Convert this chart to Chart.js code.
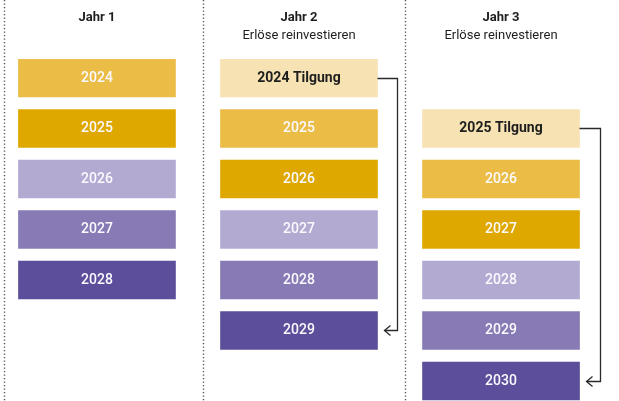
<!DOCTYPE html>
<html>
<head>
<meta charset="utf-8">
<script src="https://cdn.jsdelivr.net/npm/chart.js@4"></script>
<style>
  html, body { margin: 0; padding: 0; background: #fff; }
  #wrap { width: 619px; height: 401px; position: relative; }
</style>
</head>
<body>
<div id="wrap"><canvas id="ladderChart"></canvas></div>
<script>
// Jahre / Spalten
const columns = [1, 2, 3];
const columnTitles = ['Jahr 1', 'Jahr 2', 'Jahr 3'];
const subtitles = ['', 'Erlöse reinvestieren', 'Erlöse reinvestieren'];

// Anleihen-Leiter je Spalte (von kurz nach lang)
const ladderYears = [
    [2024, 2025, 2026, 2027, 2028],
    [2025, 2026, 2027, 2028, 2029],
    [2026, 2027, 2028, 2029, 2030]
];
const firstRow = [0, 1, 2];

// getilgte Anleihe je Spalte
const redeemedYears = [null, 2024, 2025];
const redeemedRow = [null, 0, 1];

const rungColors = ['#EBBC46', '#DFA800', '#B3AAD2', '#887AB4', '#5C4E9B'];
const tilgungColor = '#F6E2B2';
const boxHeight = 0.752;

const datasets = rungColors.map((color, k) => ({
    label: 'Stufe ' + (k + 1),
    data: columns.map((c, i) => ({ x: c, y: [firstRow[i] + k, firstRow[i] + k + boxHeight] })),
    names: columns.map((c, i) => String(ladderYears[i][k])),
    backgroundColor: color,
    textColor: '#FBFAFF',
    grouped: false,
    barThickness: 157
}));

const redeemedCols = columns.filter((c, i) => redeemedRow[i] !== null);
datasets.push({
    label: 'Tilgung',
    data: redeemedCols.map(c => ({ x: c, y: [redeemedRow[c - 1], redeemedRow[c - 1] + boxHeight] })),
    names: redeemedCols.map(c => redeemedYears[c - 1] + ' Tilgung'),
    backgroundColor: tilgungColor,
    textColor: '#1E1E1E',
    bold: true,
    grouped: false,
    barThickness: 157
});

const ladderPlugin = {
    id: 'ladder',
    beforeDatasetsDraw(chart) {
        const { ctx, scales: { x } } = chart;
        ctx.save();
        // gepunktete Trennlinien
        ctx.strokeStyle = '#555';
        ctx.lineWidth = 1.4;
        ctx.setLineDash([1.3, 2.2]);
        columns.forEach(c => {
            const px = Math.max(4.5, Math.round(x.getPixelForValue(c - 0.475)) + 0.5);
            ctx.beginPath();
            ctx.moveTo(px, 0);
            ctx.lineTo(px, chart.height);
            ctx.stroke();
        });
        ctx.setLineDash([]);

        // Kopfzeilen
        ctx.textAlign = 'center';
        ctx.textBaseline = 'middle';
        ctx.fillStyle = '#1E1E1E';
        columns.forEach((c, i) => {
            const px = x.getPixelForValue(c);
            ctx.font = 'bold 13px Roboto';
            ctx.fillText(columnTitles[i], px, 18);
            if (subtitles[i]) {
                ctx.font = '13px Roboto';
                ctx.fillText(subtitles[i], px, 36);
            }
        });
        ctx.restore();
    },
    afterDatasetsDraw(chart) {
        const { ctx } = chart;
        ctx.save();
        ctx.textAlign = 'center';
        ctx.textBaseline = 'middle';
        chart.data.datasets.forEach((ds, d) => {
            const meta = chart.getDatasetMeta(d);
            meta.data.forEach((el, i) => {
                ctx.fillStyle = ds.textColor;
                ctx.font = (ds.bold ? 'bold ' : '500 ') + '14px Roboto';
                ctx.fillText(ds.names[i], el.x, (el.y + el.base) / 2 + 0.5);
            });
        });

        // Pfeile: Tilgung -> neue Anleihe
        const tMeta = chart.getDatasetMeta(datasets.length - 1);
        const lastMeta = chart.getDatasetMeta(rungColors.length - 1);
        ctx.strokeStyle = '#2A2A2A';
        ctx.lineWidth = 1.3;
        redeemedCols.forEach((c, j) => {
            const from = tMeta.data[j];
            const to = lastMeta.data[c - 1];
            const x0 = from.x + from.width / 2;
            const y0 = Math.round((from.y + from.base) / 2) + 0.5;
            const xr = Math.round(x0 + 20) + 0.5;
            const y1 = Math.round((to.y + to.base) / 2) + 0.5;
            const tip = to.x + to.width / 2 + 7;
            ctx.beginPath();
            ctx.moveTo(x0, y0);
            ctx.lineTo(xr, y0);
            ctx.lineTo(xr, y1);
            ctx.lineTo(tip, y1);
            ctx.stroke();
            ctx.beginPath();
            ctx.moveTo(tip + 6, y1 - 5);
            ctx.lineTo(tip, y1);
            ctx.lineTo(tip + 6, y1 + 5);
            ctx.stroke();
        });
        ctx.restore();
    }
};

new Chart(document.getElementById('ladderChart'), {
    type: 'bar',
    data: { datasets: datasets },
    options: {
        responsive: true,
        maintainAspectRatio: false,
        animation: false,
        layout: { padding: { top: 59, bottom: 0, left: 0, right: 0 } },
        scales: {
            x: { type: 'linear', min: 0.52, max: 3.584, offset: false, display: false },
            y: { min: 0, max: 6.772, reverse: true, display: false }
        },
        plugins: {
            legend: { display: false },
            tooltip: { enabled: false }
        }
    },
    plugins: [ladderPlugin]
});
</script>
</body>
</html>
